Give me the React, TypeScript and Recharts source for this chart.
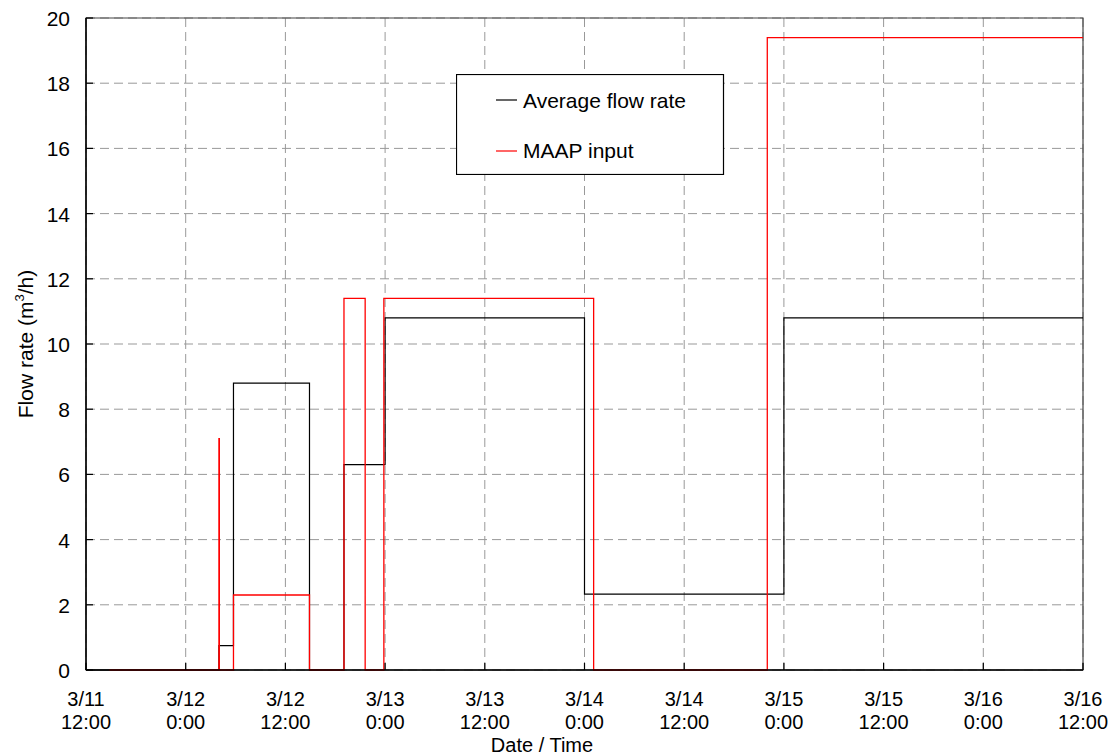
import React from 'react';
import { LineChart, Line, XAxis, YAxis, CartesianGrid, Legend, ReferenceArea } from 'recharts';

// hours counted from 3/11 12:00
const hourTicks = [0, 12, 24, 36, 48, 60, 72, 84, 96, 108, 120];
const tickDates = ['3/11', '3/12', '3/12', '3/13', '3/13', '3/14', '3/14', '3/15', '3/15', '3/16', '3/16'];
const tickTimes = ['12:00', '0:00', '12:00', '0:00', '12:00', '0:00', '12:00', '0:00', '12:00', '0:00', '12:00'];
const flowTicks = [0, 2, 4, 6, 8, 10, 12, 14, 16, 18, 20];

// step breakpoints (value holds until next point)
const avgHours = [0, 16, 17.75, 26.9, 31.05, 36, 60, 84, 120];
const avgFlow = [0, 0.75, 8.8, 0, 6.3, 10.8, 2.33, 10.8, 10.8];
const maapHours = [2.8, 16, 16.05, 17.75, 26.9, 31.05, 33.6, 35.85, 61.1, 82, 120];
const maapFlow = [0, 7.1, 0, 2.3, 0, 11.4, 0, 11.4, 0, 19.4, 19.4];

const avgData = avgHours.map((h, i) => ({ hours: h, flow: avgFlow[i] }));
const maapData = maapHours.map((h, i) => ({ hours: h, flow: maapFlow[i] }));

const FONT = '"Liberation Sans", Arial, sans-serif';
const FONT_SIZE = 21;

const TimeTick = ({ x, y, payload }: any) => {
  const i = hourTicks.indexOf(payload.value);
  return (
    <g>
      <line x1={x} y1={y} x2={x} y2={y - 7} stroke="#000" strokeWidth={1.2} />
      <text x={x} y={y + 36} textAnchor="middle" fontFamily={FONT} fontSize={20} fill="#000">
        {tickDates[i]}
      </text>
      <text x={x} y={y + 59} textAnchor="middle" fontFamily={FONT} fontSize={20} fill="#000">
        {tickTimes[i]}
      </text>
    </g>
  );
};

const FlowTick = ({ x, y, payload }: any) => (
  <g>
    <line x1={x} y1={y} x2={x + 7} y2={y} stroke="#000" strokeWidth={1.2} />
    <text x={x - 16} y={y + 8} textAnchor="end" fontFamily={FONT} fontSize={FONT_SIZE} fill="#000">
      {payload.value}
    </text>
  </g>
);

const YLabel = ({ viewBox }: any) => {
  const cy = viewBox.y + viewBox.height / 2;
  return (
    <text
      x={33}
      y={cy}
      transform={`rotate(-90, 33, ${cy})`}
      textAnchor="middle"
      fontFamily={FONT}
      fontSize={FONT_SIZE}
      fill="#000"
    >
      Flow rate (m
      <tspan fontSize={13} dy={-9}>3</tspan>
      <tspan dy={9}>/h)</tspan>
    </text>
  );
};

const XLabel = () => (
  <text x={542} y={751.5} textAnchor="middle" fontFamily={FONT} fontSize={20} fill="#000">
    Date / Time
  </text>
);

const LegendBox = () => (
  <svg width={269} height={101} style={{ display: 'block' }}>
    <rect x={0.5} y={0.5} width={267} height={100} fill="#fff" stroke="#000" strokeWidth={1.2} />
    <line x1={40} y1={26} x2={61} y2={26} stroke="#000" strokeWidth={1.2} />
    <text x={67} y={34} fontFamily={FONT} fontSize={FONT_SIZE} fill="#000">
      Average flow rate
    </text>
    <line x1={40} y1={77} x2={61} y2={77} stroke="#ff0000" strokeWidth={1.2} />
    <text x={67} y={84} fontFamily={FONT} fontSize={FONT_SIZE} fill="#000">
      MAAP input
    </text>
  </svg>
);

export default function App() {
  return (
    <div style={{ position: 'absolute', left: 0, top: 0, width: 1118, height: 756, background: '#fff' }}>
      <LineChart width={1118} height={756} margin={{ top: 18, right: 35, bottom: 0, left: 0 }}>
        <CartesianGrid stroke="#999" strokeDasharray="9 5" />
        <XAxis
          dataKey="hours"
          type="number"
          domain={[0, 120]}
          ticks={hourTicks}
          allowDuplicatedCategory={false}
          height={86}
          tickSize={0}
          tickMargin={0}
          tickLine={false}
          tick={<TimeTick />}
          axisLine={{ stroke: '#000', strokeWidth: 1.5 }}
          interval={0}
          label={<XLabel />}
        />
        <YAxis
          type="number"
          domain={[0, 20]}
          ticks={flowTicks}
          width={86}
          tickSize={0}
          tickMargin={0}
          tickLine={false}
          tick={<FlowTick />}
          axisLine={{ stroke: '#000', strokeWidth: 1.5 }}
          interval={0}
          label={<YLabel />}
        />
        <ReferenceArea x1={0} x2={120} y1={0} y2={20} fill="none" stroke="#444" strokeWidth={1.2} />
        <Line
          data={avgData}
          dataKey="flow"
          type="stepAfter"
          stroke="#000"
          strokeWidth={1.2}
          dot={false}
          activeDot={false}
          isAnimationActive={false}
          name="Average flow rate"
        />
        <Line
          data={maapData}
          dataKey="flow"
          type="stepAfter"
          stroke="#ff0000"
          strokeWidth={1.3}
          dot={false}
          activeDot={false}
          isAnimationActive={false}
          name="MAAP input"
        />
        <Legend
          layout="horizontal"
          verticalAlign="middle"
          align="center"
          content={<LegendBox />}
          wrapperStyle={{ position: 'absolute', left: 456, top: 74, width: 269, height: 101 }}
        />
      </LineChart>
    </div>
  );
}
